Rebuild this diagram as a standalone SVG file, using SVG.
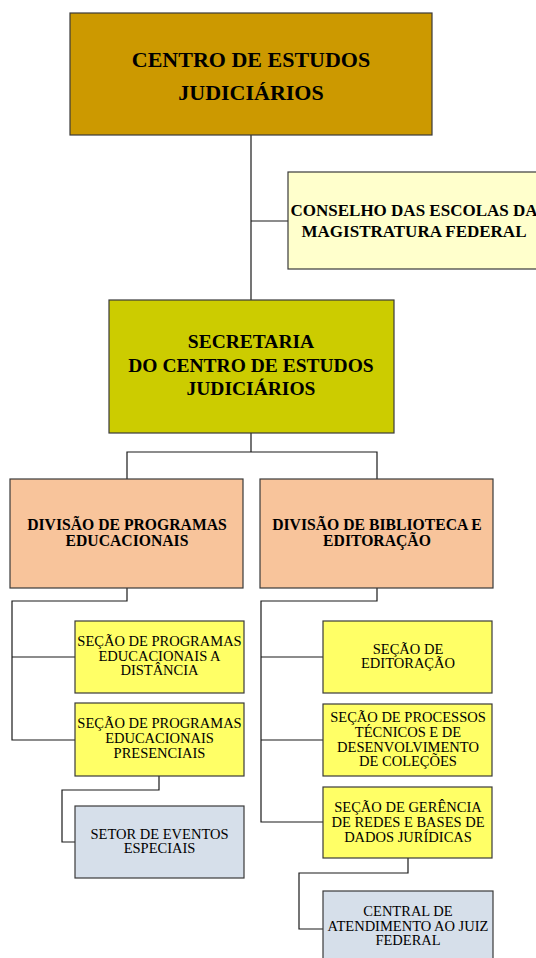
<svg xmlns="http://www.w3.org/2000/svg" width="536" height="958" viewBox="0 0 536 958">
<style>
  .box{stroke:#3a3a3a;stroke-width:1.2}
  .lines{fill:none;stroke:#1a1a1a;stroke-width:1.2}
  text{font-family:"Liberation Serif","Times New Roman",serif;fill:#000;text-anchor:middle}
  .b{font-weight:bold}
  .s{font-size:14.5px}
</style>
<rect width="536" height="958" fill="#fff"/>
<g id="connectors" class="lines">
  <path d="M251 135V300"/>
  <path d="M251 221H288"/>
  <path d="M251 433V452M127 479V452H377V479"/>
  <path d="M127 588V601H12V740H75M12 657H75"/>
  <path d="M159 776V790H62V842H75"/>
  <path d="M377 588V601H261V822H323M261 657H323M261 740H323"/>
  <path d="M408 858V873H299V929H323"/>
</g>
<g id="centro">
  <rect class="box" x="70" y="13" width="362" height="122" fill="#CC9900"/>
  <text class="b" x="251" y="67" font-size="22">CENTRO DE ESTUDOS</text>
  <text class="b" x="251" y="100" font-size="22">JUDICIÁRIOS</text>
</g>
<g id="conselho">
  <rect class="box" x="288" y="172" width="260" height="97" fill="#FFFFCC"/>
  <text class="b" x="414" y="216" font-size="17">CONSELHO DAS ESCOLAS DA</text>
  <text class="b" x="414" y="237" font-size="17">MAGISTRATURA FEDERAL</text>
</g>
<g id="secretaria">
  <rect class="box" x="109" y="300" width="285" height="133" fill="#CCCC00"/>
  <text class="b" x="251" y="348" font-size="19.5">SECRETARIA</text>
  <text class="b" x="251" y="372" font-size="19.5">DO CENTRO DE ESTUDOS</text>
  <text class="b" x="251" y="395" font-size="19.5">JUDICIÁRIOS</text>
</g>
<g id="div-programas">
  <rect class="box" x="10" y="479" width="233" height="109" fill="#F8C49B"/>
  <text class="b" x="127" y="530" font-size="15.7">DIVISÃO DE PROGRAMAS</text>
  <text class="b" x="127" y="546" font-size="15.7">EDUCACIONAIS</text>
</g>
<g id="div-biblioteca">
  <rect class="box" x="260" y="479" width="233" height="109" fill="#F8C49B"/>
  <text class="b" x="377" y="530" font-size="15.7">DIVISÃO DE BIBLIOTECA E</text>
  <text class="b" x="377" y="546" font-size="15.7">EDITORAÇÃO</text>
</g>
<g id="secao-distancia">
  <rect class="box" x="75" y="621" width="169" height="72" fill="#FFFF66"/>
  <text class="s" x="159.5" y="646">SEÇÃO DE PROGRAMAS</text>
  <text class="s" x="159.5" y="661">EDUCACIONAIS A</text>
  <text class="s" x="159.5" y="675">DISTÂNCIA</text>
</g>
<g id="secao-presenciais">
  <rect class="box" x="75" y="703" width="169" height="73" fill="#FFFF66"/>
  <text class="s" x="159.5" y="728">SEÇÃO DE PROGRAMAS</text>
  <text class="s" x="159.5" y="743">EDUCACIONAIS</text>
  <text class="s" x="159.5" y="758">PRESENCIAIS</text>
</g>
<g id="setor-eventos">
  <rect class="box" x="75" y="806" width="169" height="72" fill="#D6DFEA"/>
  <text class="s" x="159.5" y="839">SETOR DE EVENTOS</text>
  <text class="s" x="159.5" y="853">ESPECIAIS</text>
</g>
<g id="secao-editoracao">
  <rect class="box" x="323" y="621" width="169" height="72" fill="#FFFF66"/>
  <text class="s" x="408" y="654">SEÇÃO DE</text>
  <text class="s" x="408" y="668">EDITORAÇÃO</text>
</g>
<g id="secao-processos">
  <rect class="box" x="323" y="704" width="169" height="72" fill="#FFFF66"/>
  <text class="s" x="408" y="722">SEÇÃO DE PROCESSOS</text>
  <text class="s" x="408" y="737">TÉCNICOS E DE</text>
  <text class="s" x="408" y="752">DESENVOLVIMENTO</text>
  <text class="s" x="408" y="766">DE COLEÇÕES</text>
</g>
<g id="secao-redes">
  <rect class="box" x="323" y="787" width="169" height="71" fill="#FFFF66"/>
  <text class="s" x="408" y="812">SEÇÃO DE GERÊNCIA</text>
  <text class="s" x="408" y="827">DE REDES E BASES DE</text>
  <text class="s" x="408" y="842">DADOS JURÍDICAS</text>
</g>
<g id="central-atendimento">
  <rect class="box" x="323" y="891" width="170" height="80" fill="#D6DFEA"/>
  <text class="s" x="408" y="916">CENTRAL DE</text>
  <text class="s" x="408" y="931">ATENDIMENTO AO JUIZ</text>
  <text class="s" x="408" y="945">FEDERAL</text>
</g>
</svg>
